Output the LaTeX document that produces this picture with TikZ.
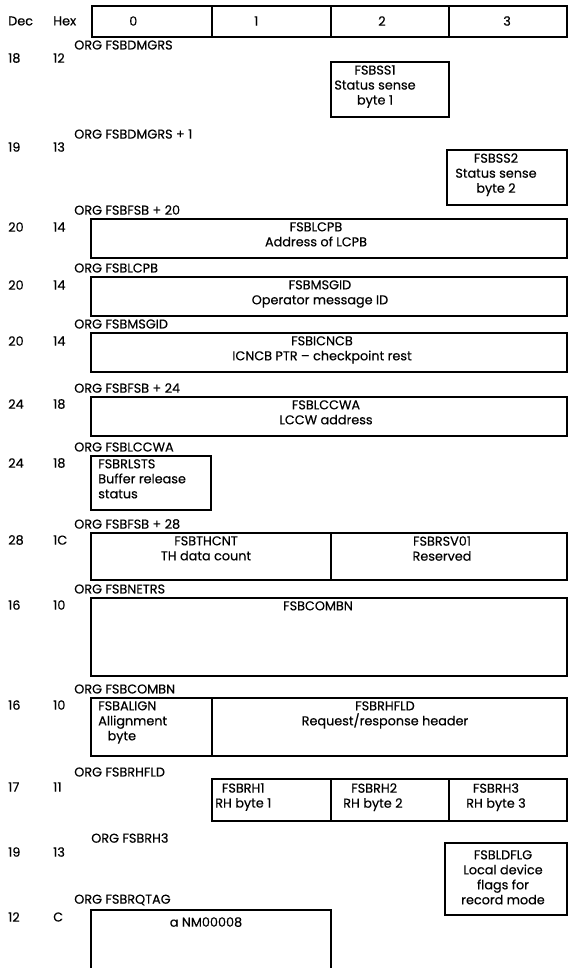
\documentclass[tikz,border=0pt]{standalone}
\usepackage{fontspec}
\setmainfont{Poppins}[FakeBold=0.4]
\usetikzlibrary{positioning}
\newcommand{\pxl}{0.75pt}
\tikzset{
	field/.style={rectangle, draw, line width=1.2pt, inner sep=0pt},
	fieldtext/.style={anchor=north, align=center, inner sep=0pt, font=\fontsize{9.6}{11.25}\selectfont},
	lefttext/.style={anchor=north west, align=left, inner sep=0pt, font=\fontsize{9.6}{11.25}\selectfont},
	rowtext/.style={anchor=west, inner sep=0pt, font=\fontsize{9.6}{11}\selectfont}
}
\begin{document}
\begin{tikzpicture}[x=0.75pt, y=-0.75pt]
	\clip (0,0) rectangle (571,968);

	% header
	\node[rowtext](decHead) at (8,21){Dec};
	\node[rowtext](hexHead) at (53,21){Hex};
	\node[field, minimum width=120*\pxl, minimum height=31*\pxl](hdrCell0) at (152,21.5){};
	\node[field, minimum width=119*\pxl, minimum height=31*\pxl](hdrCell1) at (271.5,21.5){};
	\node[field, minimum width=118*\pxl, minimum height=31*\pxl](hdrCell2) at (390,21.5){};
	\node[field, minimum width=118*\pxl, minimum height=31*\pxl](hdrCell3) at (508,21.5){};
	\node[rowtext](hdrByte0) at (129,21){0};
	\node[rowtext](hdrByte1) at (254,21){1};
	\node[rowtext](hdrByte2) at (378,21){2};
	\node[rowtext](hdrByte3) at (503,21){3};

	% ORG FSBDMGRS
	\node[rowtext](orgDmgrs) at (74,45){ORG FSBDMGRS};
	\node[rowtext](decSs1) at (8,58){18};
	\node[rowtext](hexSs1) at (53,58){12};
	\node[field, minimum width=118*\pxl, minimum height=55*\pxl](ss1Box) at (390,89.5){};
	\node[fieldtext](ss1Text) at (375,65){FSBSS1\\Status sense\\byte 1};

	% ORG FSBDMGRS + 1
	\node[rowtext](orgDmgrsOne) at (74,134){ORG FSBDMGRS + 1};
	\node[rowtext](decSs2) at (8,147){19};
	\node[rowtext](hexSs2) at (53,147){13};
	\node[field, minimum width=120*\pxl, minimum height=55*\pxl](ss2Box) at (507,177.5){};
	\node[fieldtext](ss2Text) at (496,153){FSBSS2\\Status sense\\byte 2};

	% ORG FSBFSB + 20
	\node[rowtext](orgFsbTwenty) at (74,210){ORG FSBFSB + 20};
	\node[rowtext](decLcpb) at (8,227){20};
	\node[rowtext](hexLcpb) at (53,227){14};
	\node[field, minimum width=476*\pxl, minimum height=39*\pxl](lcpbBox) at (329,238.5){};
	\node[fieldtext](lcpbText) at (316,222){FSBLCPB\\Address of LCPB};

	% ORG FSBLCPB
	\node[rowtext](orgLcpb) at (74,268){ORG FSBLCPB};
	\node[rowtext](decMsgid) at (8,285){20};
	\node[rowtext](hexMsgid) at (53,285){14};
	\node[field, minimum width=476*\pxl, minimum height=39*\pxl](msgidBox) at (329,296.5){};
	\node[fieldtext](msgidText) at (320,280){FSBMSGID\\Operator message ID};

	% ORG FSBMSGID
	\node[rowtext](orgMsgid) at (74,324){ORG FSBMSGID};
	\node[rowtext](decIcncb) at (8,341){20};
	\node[rowtext](hexIcncb) at (53,341){14};
	\node[field, minimum width=476*\pxl, minimum height=39*\pxl](icncbBox) at (329,352.5){};
	\node[fieldtext](icncbText) at (322,336){FSBICNCB\\ICNCB PTR -- checkpoint rest};

	% ORG FSBFSB + 24
	\node[rowtext](orgFsbTwentyFour) at (74,388){ORG FSBFSB + 24};
	\node[rowtext](decLccwa) at (8,404){24};
	\node[rowtext](hexLccwa) at (53,404){18};
	\node[field, minimum width=476*\pxl, minimum height=39*\pxl](lccwaBox) at (329,416.5){};
	\node[fieldtext](lccwaText) at (326,400){FSBLCCWA\\LCCW address};

	% ORG FSBLCCWA
	\node[rowtext](orgLccwa) at (74,447){ORG FSBLCCWA};
	\node[rowtext](decRlsts) at (8,463){24};
	\node[rowtext](hexRlsts) at (53,463){18};
	\node[field, minimum width=120*\pxl, minimum height=54*\pxl](rlstsBox) at (151,483){};
	\node[lefttext](rlstsText) at (98,459){FSBRLSTS\\Buffer release\\status};

	% ORG FSBFSB + 28
	\node[rowtext](orgFsbTwentyEight) at (74,524){ORG FSBFSB + 28};
	\node[rowtext](decThcnt) at (8,540){28};
	\node[rowtext](hexThcnt) at (53,540){1C};
	\node[field, minimum width=240*\pxl, minimum height=47*\pxl](thcntBox) at (211,556.5){};
	\node[field, minimum width=236*\pxl, minimum height=47*\pxl](rsvBox) at (449,556.5){};
	\node[fieldtext](thcntText) at (206,536){FSBTHCNT\\TH data count};
	\node[fieldtext](rsvText) at (442,536){FSBRSV01\\Reserved};

	% ORG FSBNETRS
	\node[rowtext](orgNetrs) at (74,589){ORG FSBNETRS};
	\node[rowtext](decCombn) at (8,605){16};
	\node[rowtext](hexCombn) at (53,605){10};
	\node[field, minimum width=476*\pxl, minimum height=78*\pxl](combnBox) at (329,637){};
	\node[fieldtext](combnText) at (318,601){FSBCOMBN};

	% ORG FSBCOMBN
	\node[rowtext](orgCombn) at (74,689){ORG FSBCOMBN};
	\node[rowtext](decAlign) at (8,705){16};
	\node[rowtext](hexAlign) at (53,705){10};
	\node[field, minimum width=121*\pxl, minimum height=58*\pxl](alignBox) at (151.5,727){};
	\node[field, minimum width=355*\pxl, minimum height=58*\pxl](rhfldBox) at (389.5,727){};
	\node[lefttext](alignText) at (98,701){FSBALIGN\\Allignment\\\hspace*{7pt}byte};
	\node[fieldtext](rhfldText) at (385,701){FSBRHFLD\\Request/response header};

	% ORG FSBRHFLD
	\node[rowtext](orgRhfld) at (74,772){ORG FSBRHFLD};
	\node[rowtext](decRh) at (8,787){17};
	\node[rowtext](hexRh) at (53,787){11};
	\node[field, minimum width=119*\pxl, minimum height=42*\pxl](rhOneBox) at (271.5,800){};
	\node[field, minimum width=118*\pxl, minimum height=42*\pxl](rhTwoBox) at (390,800){};
	\node[field, minimum width=118*\pxl, minimum height=42*\pxl](rhThreeBox) at (508,800){};
	\node[lefttext](rhOneText) at (215,783){\hspace*{5pt}FSBRH1\\RH byte 1};
	\node[lefttext](rhTwoText) at (343,783){\hspace*{6pt}FSBRH2\\RH byte 2};
	\node[fieldtext](rhThreeText) at (496,783){FSBRH3\\RH byte 3};

	% ORG FSBRH3
	\node[rowtext](orgRhThree) at (91,838){ORG FSBRH3};
	\node[rowtext](decLdflg) at (8,852){19};
	\node[rowtext](hexLdflg) at (53,852){13};
	\node[field, minimum width=122*\pxl, minimum height=72*\pxl](ldflgBox) at (506,879){};
	\node[fieldtext](ldflgText) at (503,850){FSBLDFLG\\Local device\\flags for\\record mode};

	% ORG FSBRQTAG
	\node[rowtext](orgRqtag) at (74,900){ORG FSBRQTAG};
	\node[rowtext](decRqtag) at (8,917){12};
	\node[rowtext](hexRqtag) at (53,917){C};
	\node[field, minimum width=240*\pxl, minimum height=90*\pxl](rqtagBox) at (211,955){};
	\node[fieldtext](rqtagText) at (206,917){a NM00008};
\end{tikzpicture}
\end{document}
